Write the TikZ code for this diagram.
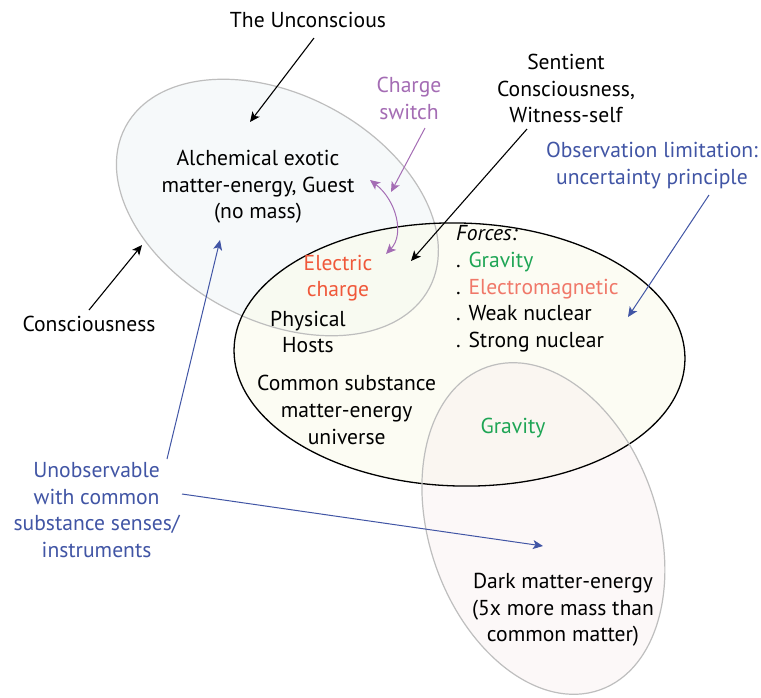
\documentclass[tikz,border=0pt]{standalone}
\usepackage{fontspec}
\setmainfont{PT Sans}
\usetikzlibrary{arrows.meta}
\definecolor{tlfill}{RGB}{236,242,244}
\definecolor{midfill}{RGB}{251,251,234}
\definecolor{pkfill}{RGB}{249,240,240}
\definecolor{ringgray}{RGB}{190,190,190}
\definecolor{purp}{RGB}{164,108,180}
\definecolor{redor}{RGB}{240,88,58}
\definecolor{salmon}{RGB}{240,120,105}
\definecolor{grn}{RGB}{30,165,85}
\definecolor{blu}{RGB}{65,85,165}
\tikzset{
  txt/.style={font=\fontsize{21.6}{26.7}\selectfont, align=center, inner sep=0pt},
  blackarr/.style={-{Stealth[length=10pt,width=9pt,inset=2.5pt]}, line width=1.1pt, black},
  bluearr/.style={-{Stealth[length=10pt,width=9pt,inset=2.5pt]}, line width=1pt, blu},
  purparr/.style={-{Stealth[length=10pt,width=9pt,inset=2.5pt]}, line width=1pt, purp},
}
\begin{document}
\begin{tikzpicture}[x=1pt,y=-1pt]
\useasboundingbox (0,0) rectangle (761,697);
\fill[white] (0,0) rectangle (761,697);
% ellipse fills
\fill[tlfill, fill opacity=0.45] (277.4,207.5) ellipse [x radius=172pt, y radius=113pt, rotate=-27.9];
\fill[midfill, fill opacity=0.55] (459.5,354.5) ellipse [x radius=225.5pt, y radius=131.5pt, rotate=-1.5];
\fill[pkfill, fill opacity=0.45] (543.4,528.5) ellipse [x radius=171pt, y radius=114pt, rotate=-70.8];
% outlines
\draw[ringgray, line width=1.2pt] (277.4,207.5) ellipse [x radius=172pt, y radius=113pt, rotate=-27.9];
\draw[black, line width=1.3pt] (459.5,354.5) ellipse [x radius=225.5pt, y radius=131.5pt, rotate=-1.5];
\draw[ringgray, line width=1.2pt] (543.4,528.5) ellipse [x radius=171pt, y radius=114pt, rotate=-70.8];

% texts
\node[txt] (unc) at (308,20) {The Unconscious};
\node[txt, text=purp] (cs) at (409,98.3) {Charge\\switch};
\node[txt] (alch) at (258,186.7) {Alchemical exotic\\matter-energy, Guest\\(no mass)};
\node[txt] (sent) at (566,88.5) {Sentient\\Consciousness,\\Witness-self};
\node[txt, text=blu] (obs) at (652,165.5) {Observation limitation:\\uncertainty principle};
\node[txt] (consc) at (89,324) {Consciousness};
\node[txt, text=redor] (elec) at (338,278) {Electric\\charge};
\node[txt] (phys) at (308,332) {Physical\\Hosts};
\node[txt] (common) at (346.7,410) {Common substance\\matter-energy\\universe};
\node[txt, align=left, anchor=west] (forces) at (456,289) {\textit{Forces:}\\. {\color{grn}Gravity}\\. {\color{salmon}Electromagnetic}\\. Weak nuclear\\. Strong nuclear};
\node[txt, text=grn] (grav) at (513,428) {Gravity};
\node[txt] (dark) at (563,610) {Dark matter-energy\\(5x more mass than\\common matter)};
\node[txt, text=blu] (unobs) at (96.6,510) {Unobservable\\with common\\substance senses/\\instruments};

% arrow end points
\coordinate (uncT) at (314,38);   \coordinate (uncH) at (250,122);
\coordinate (csT) at (425,128);   \coordinate (csH) at (391,192);
\coordinate (sentT) at (527,129); \coordinate (sentH) at (411,261);
\coordinate (obsT) at (709,195);  \coordinate (obsH) at (628,317);
\coordinate (conT) at (89,310);   \coordinate (conH) at (142,245);
\coordinate (unT1) at (167,459);  \coordinate (unH1) at (220,240);
\coordinate (unT2) at (182,494);  \coordinate (unH2) at (543,546);
\coordinate (swA) at (370,180);   \coordinate (swB) at (386,254);

\draw[blackarr] (uncT) -- (uncH);
\draw[purparr] (csT) -- (csH);
\draw[blackarr] (sentT) -- (sentH);
\draw[bluearr] (obsT) -- (obsH);
\draw[blackarr] (conT) -- (conH);
\draw[bluearr] (unT1) -- (unH1);
\draw[bluearr] (unT2) -- (unH2);
\draw[purparr, {Stealth[length=10pt,width=9pt,inset=2.5pt]}-{Stealth[length=10pt,width=9pt,inset=2.5pt]}] (swA) .. controls (396,200) and (405,234) .. (swB);
\end{tikzpicture}
\end{document}
